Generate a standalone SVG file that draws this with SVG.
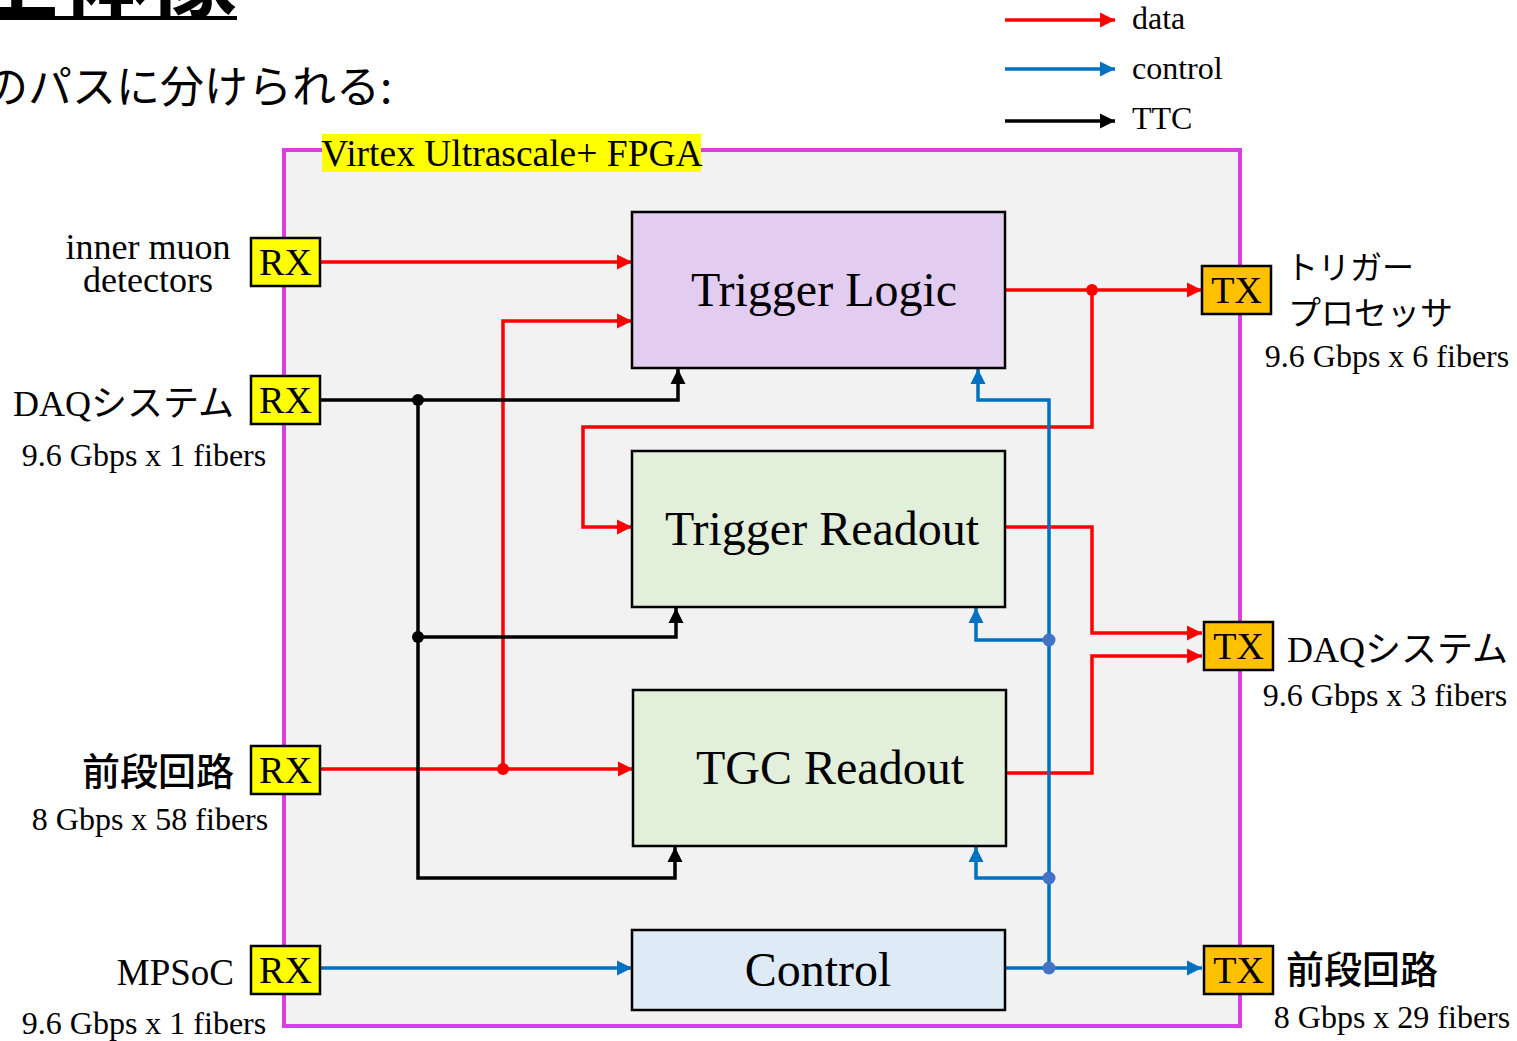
<svg xmlns="http://www.w3.org/2000/svg" width="1517" height="1041" viewBox="0 0 1517 1041">
<style>
.serif{font-family:"Liberation Serif","Noto Sans CJK JP",serif;fill:#000}
.jp{font-family:"Noto Sans CJK JP","Noto Sans",sans-serif;fill:#000}
.blk{stroke:#000;stroke-width:2.5}
.port{stroke:#000;stroke-width:2.5}
.r{fill:none;stroke:#ff0000;stroke-width:3.5}
.b{fill:none;stroke:#0070c0;stroke-width:3.5}
.k{fill:none;stroke:#000;stroke-width:3.5}
</style>
<defs>
<marker id="ar" viewBox="0 0 10 10" refX="10" refY="5" markerWidth="4.4" markerHeight="4.4" orient="auto"><path d="M0,0 L10,5 L0,10 z" fill="#ff0000"/></marker>
<marker id="ab" viewBox="0 0 10 10" refX="10" refY="5" markerWidth="4.4" markerHeight="4.4" orient="auto"><path d="M0,0 L10,5 L0,10 z" fill="#0070c0"/></marker>
<marker id="ak" viewBox="0 0 10 10" refX="10" refY="5" markerWidth="4.4" markerHeight="4.4" orient="auto"><path d="M0,0 L10,5 L0,10 z" fill="#000"/></marker>
</defs>
<rect width="1517" height="1041" fill="#fff"/>

<g id="heading">
<text x="237" y="10" class="jp" font-size="88" font-weight="bold" text-anchor="end">全体像</text>
<rect x="0" y="16" width="237" height="4" fill="#000"/>
<text x="-16" y="103" class="jp" font-size="44">のパスに分けられる:</text>
</g>

<g id="legend">
<line x1="1005" y1="20" x2="1115" y2="20" class="r" marker-end="url(#ar)"/>
<text x="1132" y="29" class="serif" font-size="32">data</text>
<line x1="1005" y1="69" x2="1115" y2="69" class="b" marker-end="url(#ab)"/>
<text x="1132" y="79" class="serif" font-size="32">control</text>
<line x1="1005" y1="121" x2="1115" y2="121" class="k" marker-end="url(#ak)"/>
<text x="1132" y="129" class="serif" font-size="32">TTC</text>
</g>

<g id="fpga">
<rect x="284" y="150" width="956" height="876" fill="#f2f2f2" stroke="#d83fe0" stroke-width="4"/>
<rect x="322" y="134" width="379" height="38" fill="#ffff00"/>
<text x="512" y="166" class="serif" font-size="37.5" text-anchor="middle">Virtex Ultrascale+ FPGA</text>
</g>

<g id="connectors">
<line x1="321" y1="262" x2="632" y2="262" class="r" marker-end="url(#ar)"/>
<line x1="321" y1="769" x2="633" y2="769" class="r" marker-end="url(#ar)"/>
<polyline points="503,769 503,321 632,321" class="r" marker-end="url(#ar)"/>
<line x1="1006" y1="290" x2="1202" y2="290" class="r" marker-end="url(#ar)"/>
<polyline points="1092,290 1092,427 583,427 583,527 632,527" class="r" marker-end="url(#ar)"/>
<polyline points="1006,527 1092,527 1092,633 1202,633" class="r" marker-end="url(#ar)"/>
<polyline points="1007,773 1092,773 1092,656 1202,656" class="r" marker-end="url(#ar)"/>
<circle cx="503" cy="769" r="6" fill="#ff0000"/>
<circle cx="1092" cy="290" r="6" fill="#ff0000"/>
<polyline points="321,400 678,400 678,369" class="k" marker-end="url(#ak)"/>
<polyline points="418,400 418,878 675,878 675,847" class="k" marker-end="url(#ak)"/>
<polyline points="418,637 676,637 676,608" class="k" marker-end="url(#ak)"/>
<circle cx="418" cy="400" r="6" fill="#000"/>
<circle cx="418" cy="637" r="6" fill="#000"/>
<line x1="321" y1="968" x2="632" y2="968" class="b" marker-end="url(#ab)"/>
<line x1="1006" y1="968" x2="1202" y2="968" class="b" marker-end="url(#ab)"/>
<polyline points="1049,968 1049,400 978,400 978,369" class="b" marker-end="url(#ab)"/>
<polyline points="1049,640 976,640 976,608" class="b" marker-end="url(#ab)"/>
<polyline points="1049,878 976,878 976,847" class="b" marker-end="url(#ab)"/>
<circle cx="1049" cy="640" r="6.5" fill="#4472c4"/>
<circle cx="1049" cy="878" r="6.5" fill="#4472c4"/>
<circle cx="1049" cy="968" r="6.5" fill="#4472c4"/>
</g>

<g id="trigger-logic">
<rect x="632" y="212" width="373" height="156" fill="#e2cdf0" class="blk"/>
<text x="824" y="306" class="serif" font-size="48" text-anchor="middle">Trigger Logic</text>
</g>
<g id="trigger-readout">
<rect x="632" y="451" width="373" height="156" fill="#e2efda" class="blk"/>
<text x="822" y="545" class="serif" font-size="48" text-anchor="middle">Trigger Readout</text>
</g>
<g id="tgc-readout">
<rect x="633" y="690" width="373" height="156" fill="#e2efda" class="blk"/>
<text x="830" y="784" class="serif" font-size="48" text-anchor="middle">TGC Readout</text>
</g>
<g id="control">
<rect x="632" y="930" width="373" height="80" fill="#deebf7" class="blk"/>
<text x="818" y="986" class="serif" font-size="48" text-anchor="middle">Control</text>
</g>

<g id="rx-inner">
<rect x="251" y="238" width="69" height="48" fill="#ffff00" class="port"/>
<text x="285.5" y="275" class="serif" font-size="38" text-anchor="middle">RX</text>
<text x="148" y="259" class="serif" font-size="36" text-anchor="middle">inner muon</text>
<text x="148" y="292" class="serif" font-size="36" text-anchor="middle">detectors</text>
</g>
<g id="rx-daq">
<rect x="251" y="376" width="69" height="48" fill="#ffff00" class="port"/>
<text x="285.5" y="413" class="serif" font-size="38" text-anchor="middle">RX</text>
<text x="234" y="416" class="serif" font-size="36" text-anchor="end">DAQシステム</text>
<text x="144" y="466" class="serif" font-size="32" text-anchor="middle">9.6 Gbps x 1 fibers</text>
</g>
<g id="rx-frontend">
<rect x="251" y="746" width="69" height="48" fill="#ffff00" class="port"/>
<text x="285.5" y="783" class="serif" font-size="38" text-anchor="middle">RX</text>
<text x="234" y="785" class="jp" font-size="38" font-weight="500" text-anchor="end">前段回路</text>
<text x="150" y="830" class="serif" font-size="32" text-anchor="middle">8 Gbps x 58 fibers</text>
</g>
<g id="rx-mpsoc">
<rect x="251" y="946" width="69" height="48" fill="#ffff00" class="port"/>
<text x="285.5" y="983" class="serif" font-size="38" text-anchor="middle">RX</text>
<text x="234" y="985" class="serif" font-size="37" text-anchor="end">MPSoC</text>
<text x="144" y="1034" class="serif" font-size="32" text-anchor="middle">9.6 Gbps x 1 fibers</text>
</g>

<g id="tx-trigger">
<rect x="1202" y="266" width="69" height="48" fill="#ffc000" class="port"/>
<text x="1236.5" y="303" class="serif" font-size="38" text-anchor="middle">TX</text>
<text x="1286" y="279" class="jp" font-size="32">トリガー</text>
<text x="1288" y="325" class="jp" font-size="33">プロセッサ</text>
<text x="1387" y="367" class="serif" font-size="32" text-anchor="middle">9.6 Gbps x 6 fibers</text>
</g>
<g id="tx-daq">
<rect x="1204" y="622" width="69" height="48" fill="#ffc000" class="port"/>
<text x="1238.5" y="659" class="serif" font-size="38" text-anchor="middle">TX</text>
<text x="1287" y="662" class="serif" font-size="36">DAQシステム</text>
<text x="1385" y="706" class="serif" font-size="32" text-anchor="middle">9.6 Gbps x 3 fibers</text>
</g>
<g id="tx-frontend">
<rect x="1204" y="946" width="69" height="48" fill="#ffc000" class="port"/>
<text x="1238.5" y="983" class="serif" font-size="38" text-anchor="middle">TX</text>
<text x="1286" y="983" class="jp" font-size="38" font-weight="500">前段回路</text>
<text x="1392" y="1028" class="serif" font-size="32" text-anchor="middle">8 Gbps x 29 fibers</text>
</g>
</svg>
